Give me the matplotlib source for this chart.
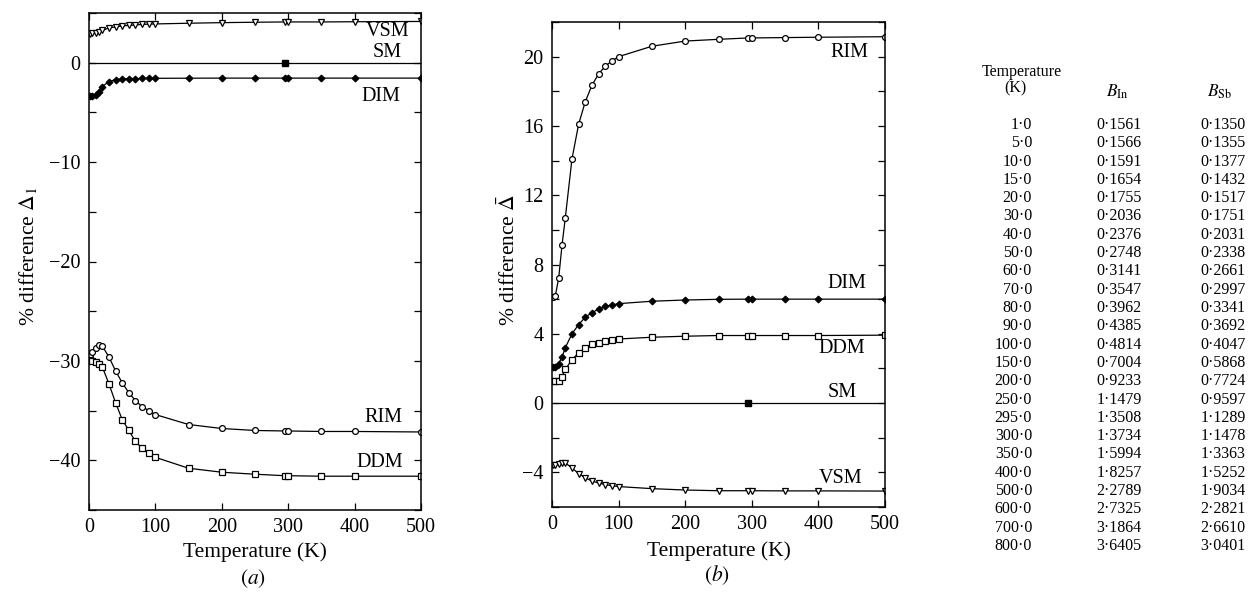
import numpy as np
import matplotlib
matplotlib.use("Agg")
import matplotlib.pyplot as plt
from matplotlib.ticker import MultipleLocator

plt.rcParams['font.family'] = ['Liberation Serif', 'DejaVu Serif']
plt.rcParams['mathtext.fontset'] = 'stix'

# temperatures at which the differences were evaluated (K)
temps = [1, 5, 10, 15, 20, 30, 40, 50, 60, 70, 80, 90, 100, 150, 200, 250, 295, 300, 350, 400, 500]

# (a) % difference Delta_1 for each model
a_vsm = [2.9, 2.95, 3.0, 3.1, 3.25, 3.5, 3.6, 3.7, 3.75, 3.8, 3.85, 3.88, 3.9, 3.97, 4.03, 4.07, 4.1, 4.1, 4.1, 4.12, 4.15]
a_dim = [-3.3, -3.3, -3.2, -2.9, -2.4, -1.9, -1.7, -1.65, -1.6, -1.6, -1.58, -1.57, -1.57, -1.56, -1.55, -1.55, -1.55, -1.55, -1.55, -1.55, -1.55]
a_rim = [-29.4, -29.1, -28.7, -28.4, -28.5, -29.6, -31.0, -32.2, -33.2, -34.0, -34.6, -35.0, -35.4, -36.4, -36.8, -37.0, -37.05, -37.05, -37.1, -37.1, -37.15]
a_ddm = [-29.9, -30.0, -30.1, -30.3, -30.6, -32.3, -34.2, -35.9, -37.0, -38.1, -38.8, -39.3, -39.7, -40.8, -41.2, -41.4, -41.55, -41.55, -41.6, -41.6, -41.6]

# (b) % difference Delta-bar
b_rim = [6.15, 6.2, 7.2, 9.1, 10.7, 14.1, 16.1, 17.4, 18.35, 19.0, 19.45, 19.75, 20.0, 20.6, 20.9, 21.0, 21.08, 21.08, 21.1, 21.12, 21.15]
b_dim = [2.07, 2.1, 2.27, 2.65, 3.2, 4.0, 4.53, 4.96, 5.22, 5.42, 5.59, 5.66, 5.74, 5.88, 5.95, 5.99, 6.0, 6.0, 6.0, 6.0, 6.0]
b_ddm = [1.3, 1.3, 1.28, 1.53, 1.94, 2.51, 2.9, 3.17, 3.4, 3.47, 3.61, 3.65, 3.7, 3.8, 3.86, 3.9, 3.9, 3.9, 3.9, 3.9, 3.92]
b_vsm = [-3.6, -3.55, -3.5, -3.45, -3.45, -3.75, -4.07, -4.32, -4.5, -4.61, -4.71, -4.77, -4.82, -4.94, -5.02, -5.06, -5.06, -5.06, -5.07, -5.07, -5.08]

# SM is the reference model: zero everywhere, one point at room temperature
sm_line_t = [0, 500]
sm_line_v = [0, 0]
sm_point_t = [295]
sm_point_v = [0]

# Debye-Waller factors (A^2)
table_temps = [1.0, 5.0, 10.0, 15.0, 20.0, 30.0, 40.0, 50.0, 60.0, 70.0, 80.0, 90.0, 100.0,
               150.0, 200.0, 250.0, 295.0, 300.0, 350.0, 400.0, 500.0, 600.0, 700.0, 800.0]
b_in = [0.1561, 0.1566, 0.1591, 0.1654, 0.1755, 0.2036, 0.2376, 0.2748, 0.3141, 0.3547, 0.3962,
        0.4385, 0.4814, 0.7004, 0.9233, 1.1479, 1.3508, 1.3734, 1.5994, 1.8257, 2.2789, 2.7325,
        3.1864, 3.6405]
b_sb = [0.1350, 0.1355, 0.1377, 0.1432, 0.1517, 0.1751, 0.2031, 0.2338, 0.2661, 0.2997, 0.3341,
        0.3692, 0.4047, 0.5868, 0.7724, 0.9597, 1.1289, 1.1478, 1.3363, 1.5252, 1.9034, 2.2821,
        2.6610, 3.0401]

W, H = 1251, 593
fig = plt.figure(figsize=(W / 100, H / 100), dpi=100)

def px_axes(left, top, right, bottom):
    return fig.add_axes([left / W, 1 - bottom / H, (right - left) / W, (bottom - top) / H])

ax_a = px_axes(89, 13, 421, 510)
ax_b = px_axes(552, 22, 885, 507)

mk = dict(color='black', lw=0.9, ms=4.2, mew=0.9)

ax_a.plot(temps, a_vsm, marker='v', mfc='white', mec='black', **mk)
ax_a.plot(sm_line_t, sm_line_v, color='black', lw=0.9)
ax_a.plot(sm_point_t, sm_point_v, 's', color='black', ms=4)
ax_a.plot(temps, a_dim, marker='D', mfc='black', mec='black', **dict(mk, ms=3.4))
ax_a.plot(temps, a_rim, marker='o', mfc='white', mec='black', **mk)
ax_a.plot(temps, a_ddm, marker='s', mfc='white', mec='black', **mk)

ax_b.plot(temps, b_rim, marker='o', mfc='white', mec='black', **mk)
ax_b.plot(temps, b_dim, marker='D', mfc='black', mec='black', **dict(mk, ms=3.4))
ax_b.plot(temps, b_ddm, marker='s', mfc='white', mec='black', **mk)
ax_b.plot(sm_line_t, sm_line_v, color='black', lw=0.9)
ax_b.plot(sm_point_t, sm_point_v, 's', color='black', ms=4)
ax_b.plot(temps, b_vsm, marker='v', mfc='white', mec='black', **mk)

lbl = dict(fontsize=14.5, ha='center', va='center')
ax_a.text(450, 3.1, 'VSM', **lbl)
ax_a.text(449, 1.0, 'SM', **lbl)
ax_a.text(440, -3.4, 'DIM', **lbl)
ax_a.text(443, -35.7, 'RIM', **lbl)
ax_a.text(438, -40.2, 'DDM', **lbl)

ax_b.text(447, 20.25, 'RIM', **lbl)
ax_b.text(443, 6.9, 'DIM', **lbl)
ax_b.text(435, 3.17, 'DDM', **lbl)
ax_b.text(435, 0.6, 'SM', **lbl)
ax_b.text(434, -4.36, 'VSM', **lbl)

for ax in (ax_a, ax_b):
    ax.set_xlim(0, 500)
    ax.xaxis.set_major_locator(MultipleLocator(100))
    ax.tick_params(which='both', direction='in', top=True, right=True, length=5, width=0.9,
                   labelsize=14.5, pad=6)
    for sp in ax.spines.values():
        sp.set_linewidth(1.1)
    ax.set_xlabel('Temperature (K)', fontsize=15.5)

ax_a.set_ylim(-45, 5)
ax_a.yaxis.set_major_locator(MultipleLocator(10))
ax_a.yaxis.set_minor_locator(MultipleLocator(5))
ax_a.set_ylabel(r'% difference $\mathit{\Delta}_1$', fontsize=15.5)
ax_a.yaxis.set_label_coords(-0.15, 0.51)
ax_a.xaxis.set_label_coords(0.5, -0.064)

ax_b.set_ylim(-6, 22)
ax_b.yaxis.set_major_locator(MultipleLocator(4))
ax_b.yaxis.set_minor_locator(MultipleLocator(2))
ax_b.set_ylabel(r'% difference $\bar{\mathit{\Delta}}$', fontsize=15.5)
ax_b.yaxis.set_label_coords(-0.095, 0.51)
ax_b.xaxis.set_label_coords(0.5, -0.07)

fig.text(253 / W, 1 - 579 / H, r'$(a)$', fontsize=15.5, ha='center', va='center')
fig.text(717 / W, 1 - 575 / H, r'$(b)$', fontsize=15.5, ha='center', va='center')

# table of B values
tfs = 11.5
fig.text(1022 / W, 1 - 72 / H, 'Temperature', fontsize=tfs, ha='center', va='center')
fig.text(1015 / W, 1 - 88 / H, '(K)', fontsize=tfs, ha='center', va='center')
fig.text(1117 / W, 1 - 92 / H, r'$B_{\mathrm{In}}$', fontsize=tfs + 1, ha='center', va='center')
fig.text(1220 / W, 1 - 92 / H, r'$B_{\mathrm{Sb}}$', fontsize=tfs + 1, ha='center', va='center')

def dot(v, nd):
    return f'{v:.{nd}f}'.replace('.', '\u00b7')

row0, step = 125, 18.3
for i, (t, bi, bs) in enumerate(zip(table_temps, b_in, b_sb)):
    y = 1 - (row0 + i * step) / H
    fig.text(1032 / W, y, dot(t, 1), fontsize=tfs, ha='right', va='center')
    fig.text(1119 / W, y, dot(bi, 4), fontsize=tfs, ha='center', va='center')
    fig.text(1223 / W, y, dot(bs, 4), fontsize=tfs, ha='center', va='center')

fig.savefig('out.png', dpi=100)
